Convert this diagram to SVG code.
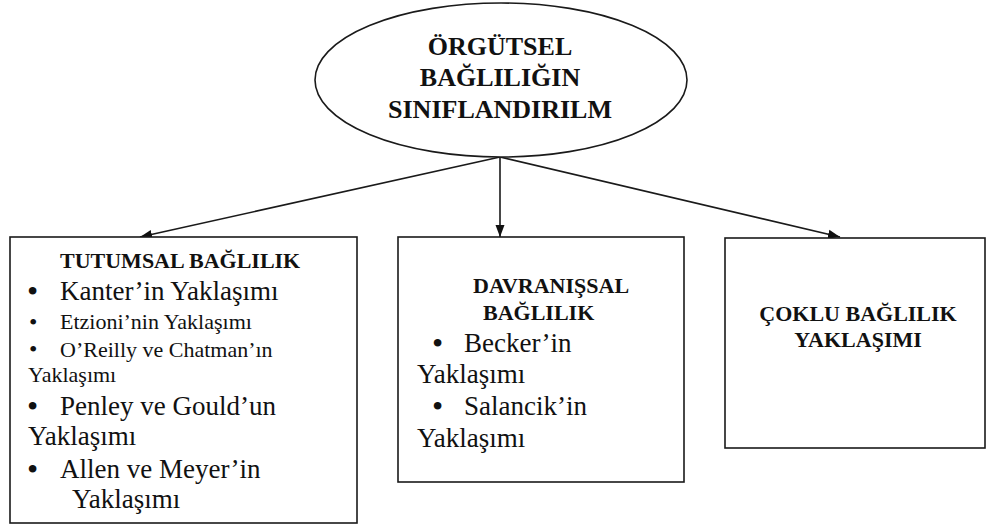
<svg xmlns="http://www.w3.org/2000/svg" width="987" height="529" viewBox="0 0 987 529">
<defs>
<marker id="arr" markerWidth="12" markerHeight="10" refX="12" refY="5" orient="auto" markerUnits="userSpaceOnUse">
<path d="M0,0.5 L12,5 L0,9.5 z" fill="#111"/>
</marker>
</defs>
<rect width="987" height="529" fill="#fff"/>
<g id="connectors" stroke="#1a1a1a" stroke-width="1.6" fill="none">
<line x1="500" y1="157" x2="140" y2="237" marker-end="url(#arr)"/>
<line x1="500" y1="157" x2="500" y2="237" marker-end="url(#arr)"/>
<line x1="500" y1="157" x2="840" y2="237" marker-end="url(#arr)"/>
</g>
<g id="root">
<ellipse cx="501" cy="80" rx="186" ry="77" fill="#fff" stroke="#1a1a1a" stroke-width="1.6"/>
<g font-family="Liberation Serif" font-weight="bold" font-size="26" fill="#111" text-anchor="middle">
<text x="500" y="55">ÖRGÜTSEL</text>
<text x="500" y="86">BAĞLILIĞIN</text>
<text x="500" y="118">SINIFLANDIRILM</text>
</g>
</g>
<g id="tutumsal">
<rect x="10" y="237" width="347" height="286" fill="#fff" stroke="#1a1a1a" stroke-width="1.6"/>
<g font-family="Liberation Serif" fill="#111">
<text x="60" y="268" font-size="22" font-weight="bold">TUTUMSAL BAĞLILIK</text>
<text x="27" y="302" font-size="32">•</text>
<text x="60" y="300" font-size="27">Kanter’in Yaklaşımı</text>
<text x="29" y="330" font-size="24">•</text>
<text x="60" y="329" font-size="22">Etzioni’nin Yaklaşımı</text>
<text x="29" y="357" font-size="24">•</text>
<text x="60" y="357" font-size="22">O’Reilly ve Chatman’ın</text>
<text x="28" y="382" font-size="22">Yaklaşımı</text>
<text x="27" y="417" font-size="32">•</text>
<text x="60" y="415" font-size="27">Penley ve Gould’un</text>
<text x="28" y="445" font-size="27">Yaklaşımı</text>
<text x="27" y="480" font-size="32">•</text>
<text x="60" y="478" font-size="27">Allen ve Meyer’in</text>
<text x="72" y="508" font-size="27">Yaklaşımı</text>
</g>
</g>
<g id="davranissal">
<rect x="398" y="237" width="286" height="245" fill="#fff" stroke="#1a1a1a" stroke-width="1.6"/>
<g font-family="Liberation Serif" fill="#111">
<text x="473" y="293" font-size="22" font-weight="bold">DAVRANIŞSAL</text>
<text x="483" y="320" font-size="22" font-weight="bold">BAĞLILIK</text>
<text x="432" y="354" font-size="32">•</text>
<text x="464" y="352" font-size="27">Becker’in</text>
<text x="417" y="383" font-size="27">Yaklaşımı</text>
<text x="432" y="417" font-size="32">•</text>
<text x="464" y="415" font-size="27">Salancik’in</text>
<text x="417" y="447" font-size="27">Yaklaşımı</text>
</g>
</g>
<g id="coklu">
<rect x="725" y="238" width="260" height="210" fill="#fff" stroke="#1a1a1a" stroke-width="1.6"/>
<g font-family="Liberation Serif" font-size="22" font-weight="bold" fill="#111" text-anchor="middle">
<text x="858" y="321">ÇOKLU BAĞLILIK</text>
<text x="858" y="347">YAKLAŞIMI</text>
</g>
</g>
</svg>
